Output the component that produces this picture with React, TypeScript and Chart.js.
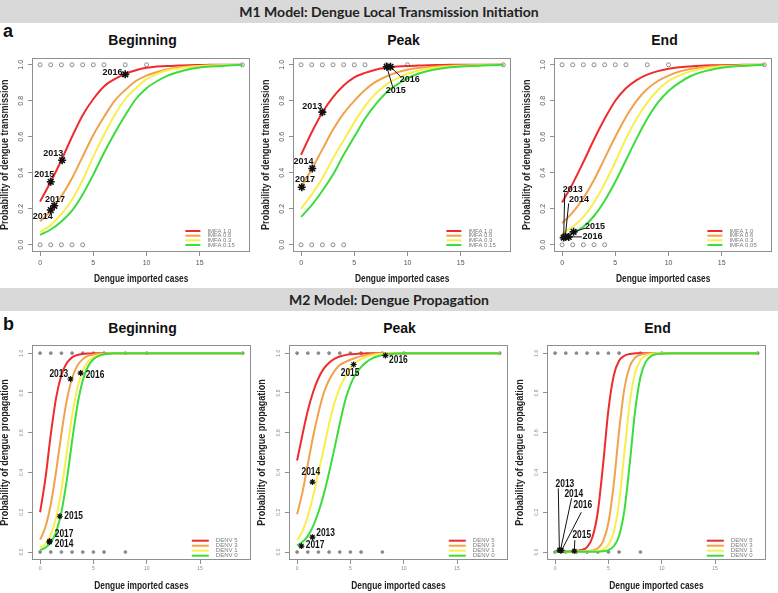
import React, { useEffect, useRef } from "react";
import { Chart, registerables } from "chart.js";

Chart.register(...registerables);

const SANS = "'Liberation Sans', Arial, Helvetica, sans-serif";

// ---------------- data ----------------
const X_A = [0, 1, 2, 3, 4, 5, 6, 7, 8, 9, 10, 11, 12, 13, 14, 15, 16, 17, 18, 19];
const X_B = [0, 0.5, 1, 1.5, 2, 2.5, 3, 3.5, 4, 4.5, 5, 5.5, 6, 6.5, 7, 7.5, 8, 8.5, 9, 9.5, 10, 11, 12, 15, 19];

const X_TICKS = [0, 5, 10, 15];
const Y_TICKS = [0, 0.2, 0.4, 0.6, 0.8, 1.0];

const CURVE_COLORS = ["#ee2c2c", "#f2a24a", "#f8ef4c", "#3ddc3d"];

const LEGEND_A = ["IMFA 1.0", "IMFA 0.6", "IMFA 0.3", "IMFA 0.15"];
const LEGEND_A_END = ["IMFA 1.0", "IMFA 0.6", "IMFA 0.3", "IMFA 0.05"];
const LEGEND_B = ["DENV 5", "DENV 3", "DENV 1", "DENV 0"];

// M1 – Beginning
const A_BEG_RED = [0.24, 0.35, 0.47, 0.6, 0.72, 0.81, 0.88, 0.92, 0.95, 0.97, 0.983, 0.99, 0.994, 0.996, 0.998, 0.999, 1, 1, 1, 1];
const A_BEG_ORANGE = [0.13, 0.19, 0.27, 0.37, 0.49, 0.61, 0.71, 0.8, 0.86, 0.91, 0.94, 0.96, 0.975, 0.985, 0.99, 0.994, 0.996, 0.998, 0.999, 1];
const A_BEG_YELLOW = [0.07, 0.11, 0.17, 0.25, 0.36, 0.49, 0.61, 0.72, 0.81, 0.87, 0.92, 0.95, 0.97, 0.98, 0.988, 0.993, 0.996, 0.998, 0.999, 1];
const A_BEG_GREEN = [0.055, 0.085, 0.13, 0.19, 0.28, 0.39, 0.51, 0.62, 0.72, 0.81, 0.87, 0.91, 0.94, 0.96, 0.975, 0.985, 0.99, 0.994, 0.997, 1];

// M1 – Peak
const A_PEAK_RED = [0.5, 0.625, 0.735, 0.82, 0.885, 0.93, 0.955, 0.973, 0.983, 0.99, 0.994, 0.996, 0.998, 0.999, 1, 1, 1, 1, 1, 1];
const A_PEAK_ORANGE = [0.32, 0.42, 0.53, 0.64, 0.73, 0.8, 0.86, 0.905, 0.935, 0.957, 0.972, 0.982, 0.988, 0.992, 0.995, 0.997, 0.998, 0.999, 1, 1];
const A_PEAK_YELLOW = [0.2, 0.28, 0.37, 0.48, 0.58, 0.68, 0.77, 0.84, 0.89, 0.925, 0.95, 0.967, 0.979, 0.986, 0.991, 0.994, 0.996, 0.998, 0.999, 1];
const A_PEAK_GREEN = [0.155, 0.22, 0.3, 0.39, 0.5, 0.6, 0.7, 0.78, 0.845, 0.89, 0.925, 0.95, 0.967, 0.978, 0.986, 0.991, 0.994, 0.996, 0.998, 1];

// M1 – End
const A_END_RED = [0.235, 0.34, 0.46, 0.585, 0.7, 0.8, 0.87, 0.915, 0.945, 0.965, 0.978, 0.986, 0.991, 0.995, 0.997, 0.998, 0.999, 1, 1, 1];
const A_END_ORANGE = [0.12, 0.18, 0.26, 0.36, 0.48, 0.6, 0.71, 0.8, 0.865, 0.91, 0.94, 0.962, 0.976, 0.985, 0.99, 0.994, 0.996, 0.998, 0.999, 1];
const A_END_YELLOW = [0.065, 0.1, 0.155, 0.235, 0.34, 0.46, 0.59, 0.7, 0.79, 0.86, 0.91, 0.94, 0.962, 0.976, 0.985, 0.99, 0.994, 0.996, 0.998, 1];
const A_END_GREEN = [0.04, 0.065, 0.1, 0.16, 0.245, 0.35, 0.47, 0.59, 0.7, 0.79, 0.855, 0.9, 0.935, 0.958, 0.973, 0.983, 0.99, 0.994, 0.997, 1];

// M2 – Beginning
const B_BEG_RED = [0.2, 0.37, 0.59, 0.775, 0.89, 0.95, 0.979, 0.991, 0.996, 0.998, 0.999, 1, 1, 1, 1, 1, 1, 1, 1, 1, 1, 1, 1, 1, 1];
const B_BEG_ORANGE = [0.062, 0.126, 0.24, 0.405, 0.596, 0.762, 0.874, 0.938, 0.97, 0.986, 0.993, 0.997, 0.998, 0.999, 1, 1, 1, 1, 1, 1, 1, 1, 1, 1, 1];
const B_BEG_YELLOW = [0.02, 0.042, 0.088, 0.174, 0.314, 0.5, 0.686, 0.826, 0.912, 0.958, 0.98, 0.991, 0.996, 0.998, 0.999, 1, 1, 1, 1, 1, 1, 1, 1, 1, 1];
const B_BEG_GREEN = [0.01, 0.022, 0.048, 0.101, 0.201, 0.36, 0.557, 0.738, 0.863, 0.934, 0.969, 0.986, 0.994, 0.997, 0.999, 1, 1, 1, 1, 1, 1, 1, 1, 1, 1];

// M2 – Peak
const B_PEAK_RED = [0.46, 0.59, 0.71, 0.805, 0.874, 0.922, 0.952, 0.971, 0.983, 0.99, 0.994, 0.996, 0.998, 0.999, 1, 1, 1, 1, 1, 1, 1, 1, 1, 1, 1];
const B_PEAK_ORANGE = [0.19, 0.3, 0.44, 0.58, 0.7, 0.8, 0.865, 0.91, 0.94, 0.955, 0.967, 0.977, 0.985, 0.99, 0.994, 0.996, 0.998, 0.999, 1, 1, 1, 1, 1, 1, 1];
const B_PEAK_YELLOW = [0.059, 0.105, 0.18, 0.28, 0.4, 0.52, 0.645, 0.75, 0.825, 0.88, 0.925, 0.952, 0.97, 0.982, 0.99, 0.995, 0.997, 0.999, 1, 1, 1, 1, 1, 1, 1];
const B_PEAK_GREEN = [0.034, 0.05, 0.08, 0.13, 0.2, 0.29, 0.4, 0.52, 0.645, 0.76, 0.84, 0.895, 0.93, 0.955, 0.972, 0.983, 0.99, 0.994, 0.997, 0.998, 0.999, 1, 1, 1, 1];

// M2 – End
const B_END_RED = [0.002, 0.002, 0.003, 0.004, 0.006, 0.01, 0.025, 0.074, 0.2, 0.44, 0.715, 0.888, 0.962, 0.987, 0.996, 0.999, 1, 1, 1, 1, 1, 1, 1, 1, 1];
const B_END_ORANGE = [0.001, 0.001, 0.002, 0.002, 0.003, 0.004, 0.005, 0.008, 0.019, 0.054, 0.147, 0.34, 0.608, 0.823, 0.933, 0.977, 0.992, 0.997, 0.999, 1, 1, 1, 1, 1, 1];
const B_END_YELLOW = [0.001, 0.001, 0.001, 0.002, 0.002, 0.003, 0.003, 0.004, 0.006, 0.013, 0.036, 0.1, 0.25, 0.5, 0.75, 0.9, 0.964, 0.988, 0.996, 0.999, 1, 1, 1, 1, 1];
const B_END_GREEN = [0.001, 0.001, 0.001, 0.001, 0.001, 0.002, 0.002, 0.002, 0.002, 0.004, 0.01, 0.029, 0.082, 0.21, 0.445, 0.707, 0.879, 0.956, 0.985, 0.995, 0.998, 1, 1, 1, 1];

// observed outcomes (grey points at 1 and 0)
const DOTS_TOP = [0, 1, 2, 3, 4, 5, 6, 8, 10, 19];
const DOTS_BOTTOM_A = [0, 1, 2, 3, 4];
const DOTS_BOTTOM_B = [0, 1, 2, 3, 4, 5, 6, 8];

// yearly points (x, y) and label anchor (tx, ty), optional leader start (lx, ly)
type Star = { year: string; x: number; y: number; tx: number; ty: number; lx?: number; ly?: number };

const A_BEG_STARS: Star[] = [
  { year: "2013", x: 2.07, y: 0.47, tx: 1.24, ty: 0.505 },
  { year: "2014", x: 1.0, y: 0.193, tx: 0.25, ty: 0.155 },
  { year: "2015", x: 1.0, y: 0.35, tx: 0.4, ty: 0.39 },
  { year: "2016", x: 8.0, y: 0.947, tx: 6.8, ty: 0.958 },
  { year: "2017", x: 1.33, y: 0.217, tx: 1.4, ty: 0.252 },
];
const A_PEAK_STARS: Star[] = [
  { year: "2013", x: 2.0, y: 0.737, tx: 1.05, ty: 0.768 },
  { year: "2014", x: 1.05, y: 0.424, tx: 0.22, ty: 0.464 },
  { year: "2015", x: 8.05, y: 0.989, tx: 8.9, ty: 0.856, lx: 8.6, ly: 0.878 },
  { year: "2016", x: 8.4, y: 0.989, tx: 10.2, ty: 0.92, lx: 9.35, ly: 0.934 },
  { year: "2017", x: 0.06, y: 0.32, tx: 0.37, ty: 0.363 },
];
const A_END_STARS: Star[] = [
  { year: "2013", x: 0.15, y: 0.04, tx: 1.0, ty: 0.307, lx: 0.25, ly: 0.29 },
  { year: "2014", x: 0.3, y: 0.045, tx: 1.6, ty: 0.252, lx: 0.62, ly: 0.23 },
  { year: "2015", x: 1.08, y: 0.072, tx: 3.1, ty: 0.1, lx: 2.17, ly: 0.092 },
  { year: "2016", x: 0.62, y: 0.044, tx: 2.85, ty: 0.044, lx: 1.86, ly: 0.044 },
];
const B_BEG_STARS: Star[] = [
  { year: "2013", x: 2.85, y: 0.87, tx: 1.75, ty: 0.896 },
  { year: "2014", x: 0.87, y: 0.05, tx: 2.25, ty: 0.038 },
  { year: "2015", x: 1.85, y: 0.18, tx: 3.15, ty: 0.18 },
  { year: "2016", x: 3.8, y: 0.9, tx: 5.15, ty: 0.89 },
  { year: "2017", x: 0.9, y: 0.055, tx: 2.25, ty: 0.088 },
];
const B_PEAK_STARS: Star[] = [
  { year: "2013", x: 1.44, y: 0.075, tx: 2.67, ty: 0.097 },
  { year: "2014", x: 1.44, y: 0.352, tx: 1.29, ty: 0.4 },
  { year: "2015", x: 5.3, y: 0.943, tx: 4.97, ty: 0.9 },
  { year: "2016", x: 8.28, y: 0.988, tx: 9.5, ty: 0.963 },
  { year: "2017", x: 0.4, y: 0.03, tx: 1.69, ty: 0.037 },
];
const B_END_STARS: Star[] = [
  { year: "2013", x: 0.4, y: 0.01, tx: 0.92, ty: 0.34, lx: 0.3, ly: 0.32 },
  { year: "2014", x: 0.5, y: 0.008, tx: 1.75, ty: 0.29, lx: 1.54, ly: 0.27 },
  { year: "2015", x: 1.8, y: 0.005, tx: 2.5, ty: 0.084, lx: 1.85, ly: 0.06 },
  { year: "2016", x: 0.6, y: 0.008, tx: 2.6, ty: 0.236, lx: 2.46, ly: 0.2 },
];

// ---------------- panels ----------------
type PanelCfg = {
  row: "a" | "b";
  title: string;
  left: number;
  top: number;
  height: number;
  xs: number[];
  curves: number[][];
  legend: string[];
  yTitle: string;
  dotsBottom: number[];
  stars: Star[];
};

const W = 256;
const YAXIS_W = 32;
const PAD_TOP = 4;
const PAD_RIGHT = 3;
const A_TOP = 52;
const A_H = 234;
const B_TOP = 340;
const B_H = 253;
const X_TITLE = "Dengue imported cases";
const Y_TITLE_A = "Probability of dengue transmission";
const Y_TITLE_B = "Probability of dengue propagation";

const PANELS: PanelCfg[] = [
  { row: "a", title: "Beginning", left: 0, top: A_TOP, height: A_H, xs: X_A, curves: [A_BEG_RED, A_BEG_ORANGE, A_BEG_YELLOW, A_BEG_GREEN], legend: LEGEND_A, yTitle: Y_TITLE_A, dotsBottom: DOTS_BOTTOM_A, stars: A_BEG_STARS },
  { row: "a", title: "Peak", left: 261, top: A_TOP, height: A_H, xs: X_A, curves: [A_PEAK_RED, A_PEAK_ORANGE, A_PEAK_YELLOW, A_PEAK_GREEN], legend: LEGEND_A, yTitle: Y_TITLE_A, dotsBottom: DOTS_BOTTOM_A, stars: A_PEAK_STARS },
  { row: "a", title: "End", left: 522, top: A_TOP, height: A_H, xs: X_A, curves: [A_END_RED, A_END_ORANGE, A_END_YELLOW, A_END_GREEN], legend: LEGEND_A_END, yTitle: Y_TITLE_A, dotsBottom: DOTS_BOTTOM_A, stars: A_END_STARS },
  { row: "b", title: "Beginning", left: 0, top: B_TOP, height: B_H, xs: X_B, curves: [B_BEG_RED, B_BEG_ORANGE, B_BEG_YELLOW, B_BEG_GREEN], legend: LEGEND_B, yTitle: Y_TITLE_B, dotsBottom: DOTS_BOTTOM_B, stars: B_BEG_STARS },
  { row: "b", title: "Peak", left: 257, top: B_TOP, height: B_H, xs: X_B, curves: [B_PEAK_RED, B_PEAK_ORANGE, B_PEAK_YELLOW, B_PEAK_GREEN], legend: LEGEND_B, yTitle: Y_TITLE_B, dotsBottom: DOTS_BOTTOM_B, stars: B_PEAK_STARS },
  { row: "b", title: "End", left: 515, top: B_TOP, height: B_H, xs: X_B, curves: [B_END_RED, B_END_ORANGE, B_END_YELLOW, B_END_GREEN], legend: LEGEND_B, yTitle: Y_TITLE_B, dotsBottom: DOTS_BOTTOM_B, stars: B_END_STARS },
];

function condensedText(ctx: CanvasRenderingContext2D, text: string, x: number, y: number, sx: number, rot = 0) {
  ctx.save();
  ctx.translate(x, y);
  if (rot) ctx.rotate(rot);
  ctx.scale(sx, 1);
  ctx.fillText(text, 0, 0);
  ctx.restore();
}

function Panel({ cfg }: { cfg: PanelCfg }) {
  const ref = useRef<HTMLCanvasElement | null>(null);

  useEffect(() => {
    const canvas = ref.current;
    if (!canvas) return;
    const isA = cfg.row === "a";

    const curveSets = cfg.curves.map((vals, i) => ({
      label: cfg.legend[i],
      data: cfg.xs.map((x, j) => ({ x, y: vals[j] })),
      showLine: true,
      borderColor: CURVE_COLORS[i],
      backgroundColor: CURVE_COLORS[i],
      borderWidth: 2,
      pointRadius: 0,
      cubicInterpolationMode: "monotone",
      fill: false,
      order: 4 - i,
    }));

    const dots = [
      ...DOTS_TOP.map((x) => ({ x, y: 1 })),
      ...cfg.dotsBottom.map((x) => ({ x, y: 0 })),
    ];

    const datasets: any[] = [
      {
        label: "years",
        data: cfg.stars.map((s) => ({ x: s.x, y: s.y })),
        showLine: false,
        pointStyle: "star",
        pointRadius: isA ? 4 : 3,
        borderColor: "#111",
        backgroundColor: "#111",
        borderWidth: isA ? 1.6 : 1.2,
        order: 0,
      },
      ...curveSets,
      {
        label: "observed",
        data: dots,
        showLine: false,
        pointStyle: "circle",
        pointRadius: isA ? 2 : 1.4,
        borderColor: "#8a8a8a",
        backgroundColor: isA ? "rgba(0,0,0,0)" : "#8a8a8a",
        borderWidth: 1,
        order: 5,
      },
    ];

    const tickFontSize = isA ? 7 : 5;
    const tickColor = isA ? "#555" : "#8a8a8a";

    const deco = {
      id: "deco",
      afterDatasetsDraw(chart: any) {
        const { ctx, chartArea: ca, scales } = chart;
        const sx = scales.x;
        const sy = scales.y;
        ctx.save();
        // frame
        ctx.strokeStyle = "#8f8f8f";
        ctx.lineWidth = 1;
        ctx.strokeRect(Math.round(ca.left) + 0.5, Math.round(ca.top) + 0.5, Math.round(ca.width) - 1, Math.round(ca.height) - 1);

        // leader lines
        ctx.strokeStyle = "#111";
        ctx.lineWidth = 1;
        cfg.stars.forEach((s) => {
          if (s.lx === undefined || s.ly === undefined) return;
          ctx.beginPath();
          ctx.moveTo(sx.getPixelForValue(s.lx), sy.getPixelForValue(s.ly));
          ctx.lineTo(sx.getPixelForValue(s.x), sy.getPixelForValue(s.y));
          ctx.stroke();
        });

        // year labels
        ctx.fillStyle = "#111";
        ctx.textAlign = "center";
        ctx.textBaseline = "middle";
        ctx.font = isA ? `bold 9px ${SANS}` : `bold 10.5px ${SANS}`;
        cfg.stars.forEach((s) => {
          condensedText(ctx, s.year, sx.getPixelForValue(s.tx), sy.getPixelForValue(s.ty), isA ? 1 : 0.8);
        });

        // legend (bottom right, no box)
        const rows = isA ? [21, 16.3, 11.7, 7] : [19.3, 14.3, 9.3, 4.3];
        const lx0 = ca.right - (isA ? 65 : 59);
        const lx1 = ca.right - (isA ? 50 : 42);
        const tx = ca.right - (isA ? 43 : 35);
        ctx.textAlign = "left";
        ctx.font = `6px ${SANS}`;
        cfg.legend.forEach((lab, i) => {
          const yy = ca.bottom - rows[i];
          ctx.strokeStyle = CURVE_COLORS[i];
          ctx.lineWidth = 2;
          ctx.beginPath();
          ctx.moveTo(lx0, yy);
          ctx.lineTo(lx1, yy);
          ctx.stroke();
          ctx.fillStyle = "#7a7a7a";
          ctx.fillText(lab, tx, yy);
        });
        ctx.restore();
      },
      afterDraw(chart: any) {
        const { ctx, chartArea: ca, scales } = chart;
        const sx = scales.x;
        const sy = scales.y;
        ctx.save();
        // tick labels (R style: y labels parallel to the axis)
        ctx.fillStyle = tickColor;
        ctx.textAlign = "center";
        ctx.textBaseline = "middle";
        ctx.font = `${tickFontSize}px ${SANS}`;
        sx.ticks.forEach((t: any) => {
          ctx.fillText(String(t.value), sx.getPixelForValue(t.value), ca.bottom + (isA ? 11 : 9));
        });
        sy.ticks.forEach((t: any) => {
          condensedText(ctx, Number(t.value).toFixed(1), ca.left - (isA ? 11 : 10), sy.getPixelForValue(t.value), 1, -Math.PI / 2);
        });
        // axis titles (condensed, like the R narrow font)
        ctx.fillStyle = "#222";
        ctx.font = `bold 11px ${SANS}`;
        condensedText(ctx, X_TITLE, (ca.left + ca.right) / 2, ca.bottom + (isA ? 27 : 25.5), 0.76);
        ctx.font = `bold 10px ${SANS}`;
        condensedText(ctx, cfg.yTitle, ca.left - 26.5, (ca.top + ca.bottom) / 2, 0.9, -Math.PI / 2);
        ctx.restore();
      },
    };

    const chart = new Chart(canvas, {
      type: "scatter",
      data: { datasets },
      plugins: [deco],
      options: {
        animation: false,
        responsive: false,
        events: [],
        devicePixelRatio: 1,
        layout: { padding: { top: PAD_TOP, right: PAD_RIGHT, left: 0, bottom: 0 } },
        plugins: { legend: { display: false }, tooltip: { enabled: false }, title: { display: false } },
        scales: {
          x: {
            type: "linear",
            min: -0.76,
            max: 19.76,
            afterBuildTicks: (s: any) => {
              s.ticks = X_TICKS.map((v) => ({ value: v }));
            },
            afterFit: (s: any) => {
              s.height = cfg.height - PAD_TOP - (isA ? 196 : 216);
            },
            ticks: { display: false },
            grid: { display: true, drawOnChartArea: false, drawTicks: true, tickLength: 4, color: "#8f8f8f" },
            border: { display: false },
            title: { display: false },
          },
          y: {
            type: "linear",
            min: -0.04,
            max: 1.04,
            afterBuildTicks: (s: any) => {
              s.ticks = Y_TICKS.map((v) => ({ value: v }));
            },
            afterFit: (s: any) => {
              s.width = YAXIS_W;
            },
            ticks: { display: false },
            grid: { display: true, drawOnChartArea: false, drawTicks: true, tickLength: 4, color: "#8f8f8f" },
            border: { display: false },
            title: { display: false },
          },
        },
      } as any,
    });
    return () => chart.destroy();
  }, [cfg]);

  return (
    <div style={{ position: "absolute", left: cfg.left, top: cfg.top, width: W, height: cfg.height }}>
      <canvas ref={ref} width={W} height={cfg.height} style={{ width: W, height: cfg.height, display: "block" }} />
    </div>
  );
}

const bannerStyle: React.CSSProperties = {
  position: "absolute",
  left: 0,
  width: 778,
  height: 23,
  background: "#d9d9d9",
  display: "flex",
  alignItems: "center",
  justifyContent: "center",
  font: "bold 14px Lato, 'Liberation Sans', sans-serif",
  color: "#222",
};

function Title({ text, cx, cy }: { text: string; cx: number; cy: number }) {
  return (
    <div
      style={{
        position: "absolute",
        left: cx - 100,
        top: cy - 9,
        width: 200,
        height: 18,
        lineHeight: "18px",
        textAlign: "center",
        font: `bold 14px ${SANS}`,
        color: "#111",
      }}
    >
      {text}
    </div>
  );
}

export default function App() {
  return (
    <div style={{ position: "absolute", left: 0, top: 0, width: 778, height: 593, overflow: "hidden", background: "#fff", fontFamily: SANS }}>
      <div style={{ ...bannerStyle, top: 0 }}>M1 Model: Dengue Local Transmission Initiation</div>
      <div style={{ ...bannerStyle, top: 288 }}>M2 Model: Dengue Propagation</div>
      <div style={{ position: "absolute", left: 3, top: 21, font: `bold 18px ${SANS}`, lineHeight: "20px", color: "#111" }}>a</div>
      <div style={{ position: "absolute", left: 3, top: 314, font: `bold 18px ${SANS}`, lineHeight: "20px", color: "#111" }}>b</div>
      {PANELS.map((p, i) => {
        const cx = p.left + YAXIS_W + (W - YAXIS_W - PAD_RIGHT) / 2;
        return <Title key={"t" + i} text={p.title} cx={cx} cy={p.row === "a" ? 41 : 329} />;
      })}
      {PANELS.map((p, i) => (
        <Panel key={i} cfg={p} />
      ))}
    </div>
  );
}
